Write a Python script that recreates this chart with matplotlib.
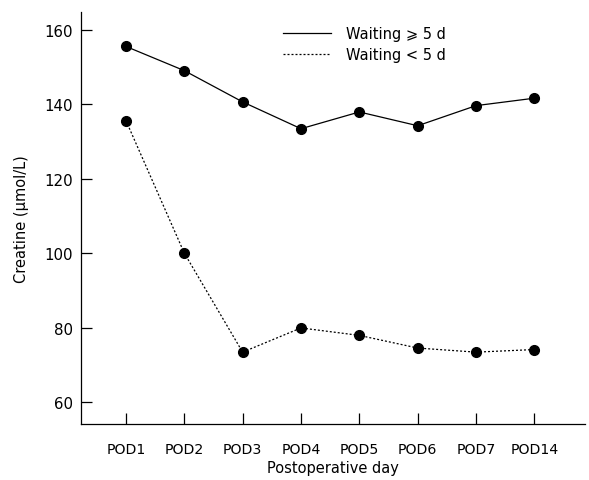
import matplotlib
matplotlib.use("Agg")
import matplotlib.pyplot as plt

days = ["POD1", "POD2", "POD3", "POD4", "POD5", "POD6", "POD7", "POD14"]
waiting_long = [155.5, 149.0, 140.6, 133.4, 137.9, 134.2, 139.6, 141.6]
waiting_short = [135.6, 100.0, 73.4, 79.9, 77.9, 74.5, 73.4, 74.1]
yticks = [60, 80, 100, 120, 140, 160]

plt.rcParams['font.family'] = ['DejaVu Sans']

fig = plt.figure(figsize=(5.89, 4.81), dpi=100)
ax = fig.add_axes([0.1375, 0.1164, 0.856, 0.857])

x = list(range(1, len(days) + 1))
ax.plot(x, waiting_long, '-', color='black', linewidth=0.9,
        marker='o', markersize=7, label='Waiting \u2a7e 5 d')
ax.plot(x, waiting_short, linestyle=(0, (1.6, 1.6)), color='black', linewidth=0.9,
        marker='o', markersize=7, label='Waiting < 5 d')

ax.set_xlim(0.23, 8.87)
ax.set_ylim(54.1, 164.8)
ax.set_xticks(x)
ax.set_xticklabels(days)
ax.set_yticks(yticks)

for side in ['top', 'right']:
    ax.spines[side].set_visible(False)
for side in ['left', 'bottom']:
    ax.spines[side].set_linewidth(0.9)

ax.tick_params(axis='both', direction='in', length=8, width=0.9)
ax.tick_params(axis='y', pad=6, labelsize=10.8)
ax.tick_params(axis='x', pad=13, labelsize=10.2)

ax.set_xlabel("Postoperative day", fontsize=10.5, labelpad=3)
ax.set_ylabel("Creatine (\u03bcmol/L)", fontsize=10.5, labelpad=11)

ax.legend(loc='upper left', bbox_to_anchor=(0.375, 0.998), frameon=False,
          fontsize=10.5, handlelength=3.3, handletextpad=1.0, labelspacing=0.45,
          markerscale=0)

fig.savefig("out.png", dpi=100)
